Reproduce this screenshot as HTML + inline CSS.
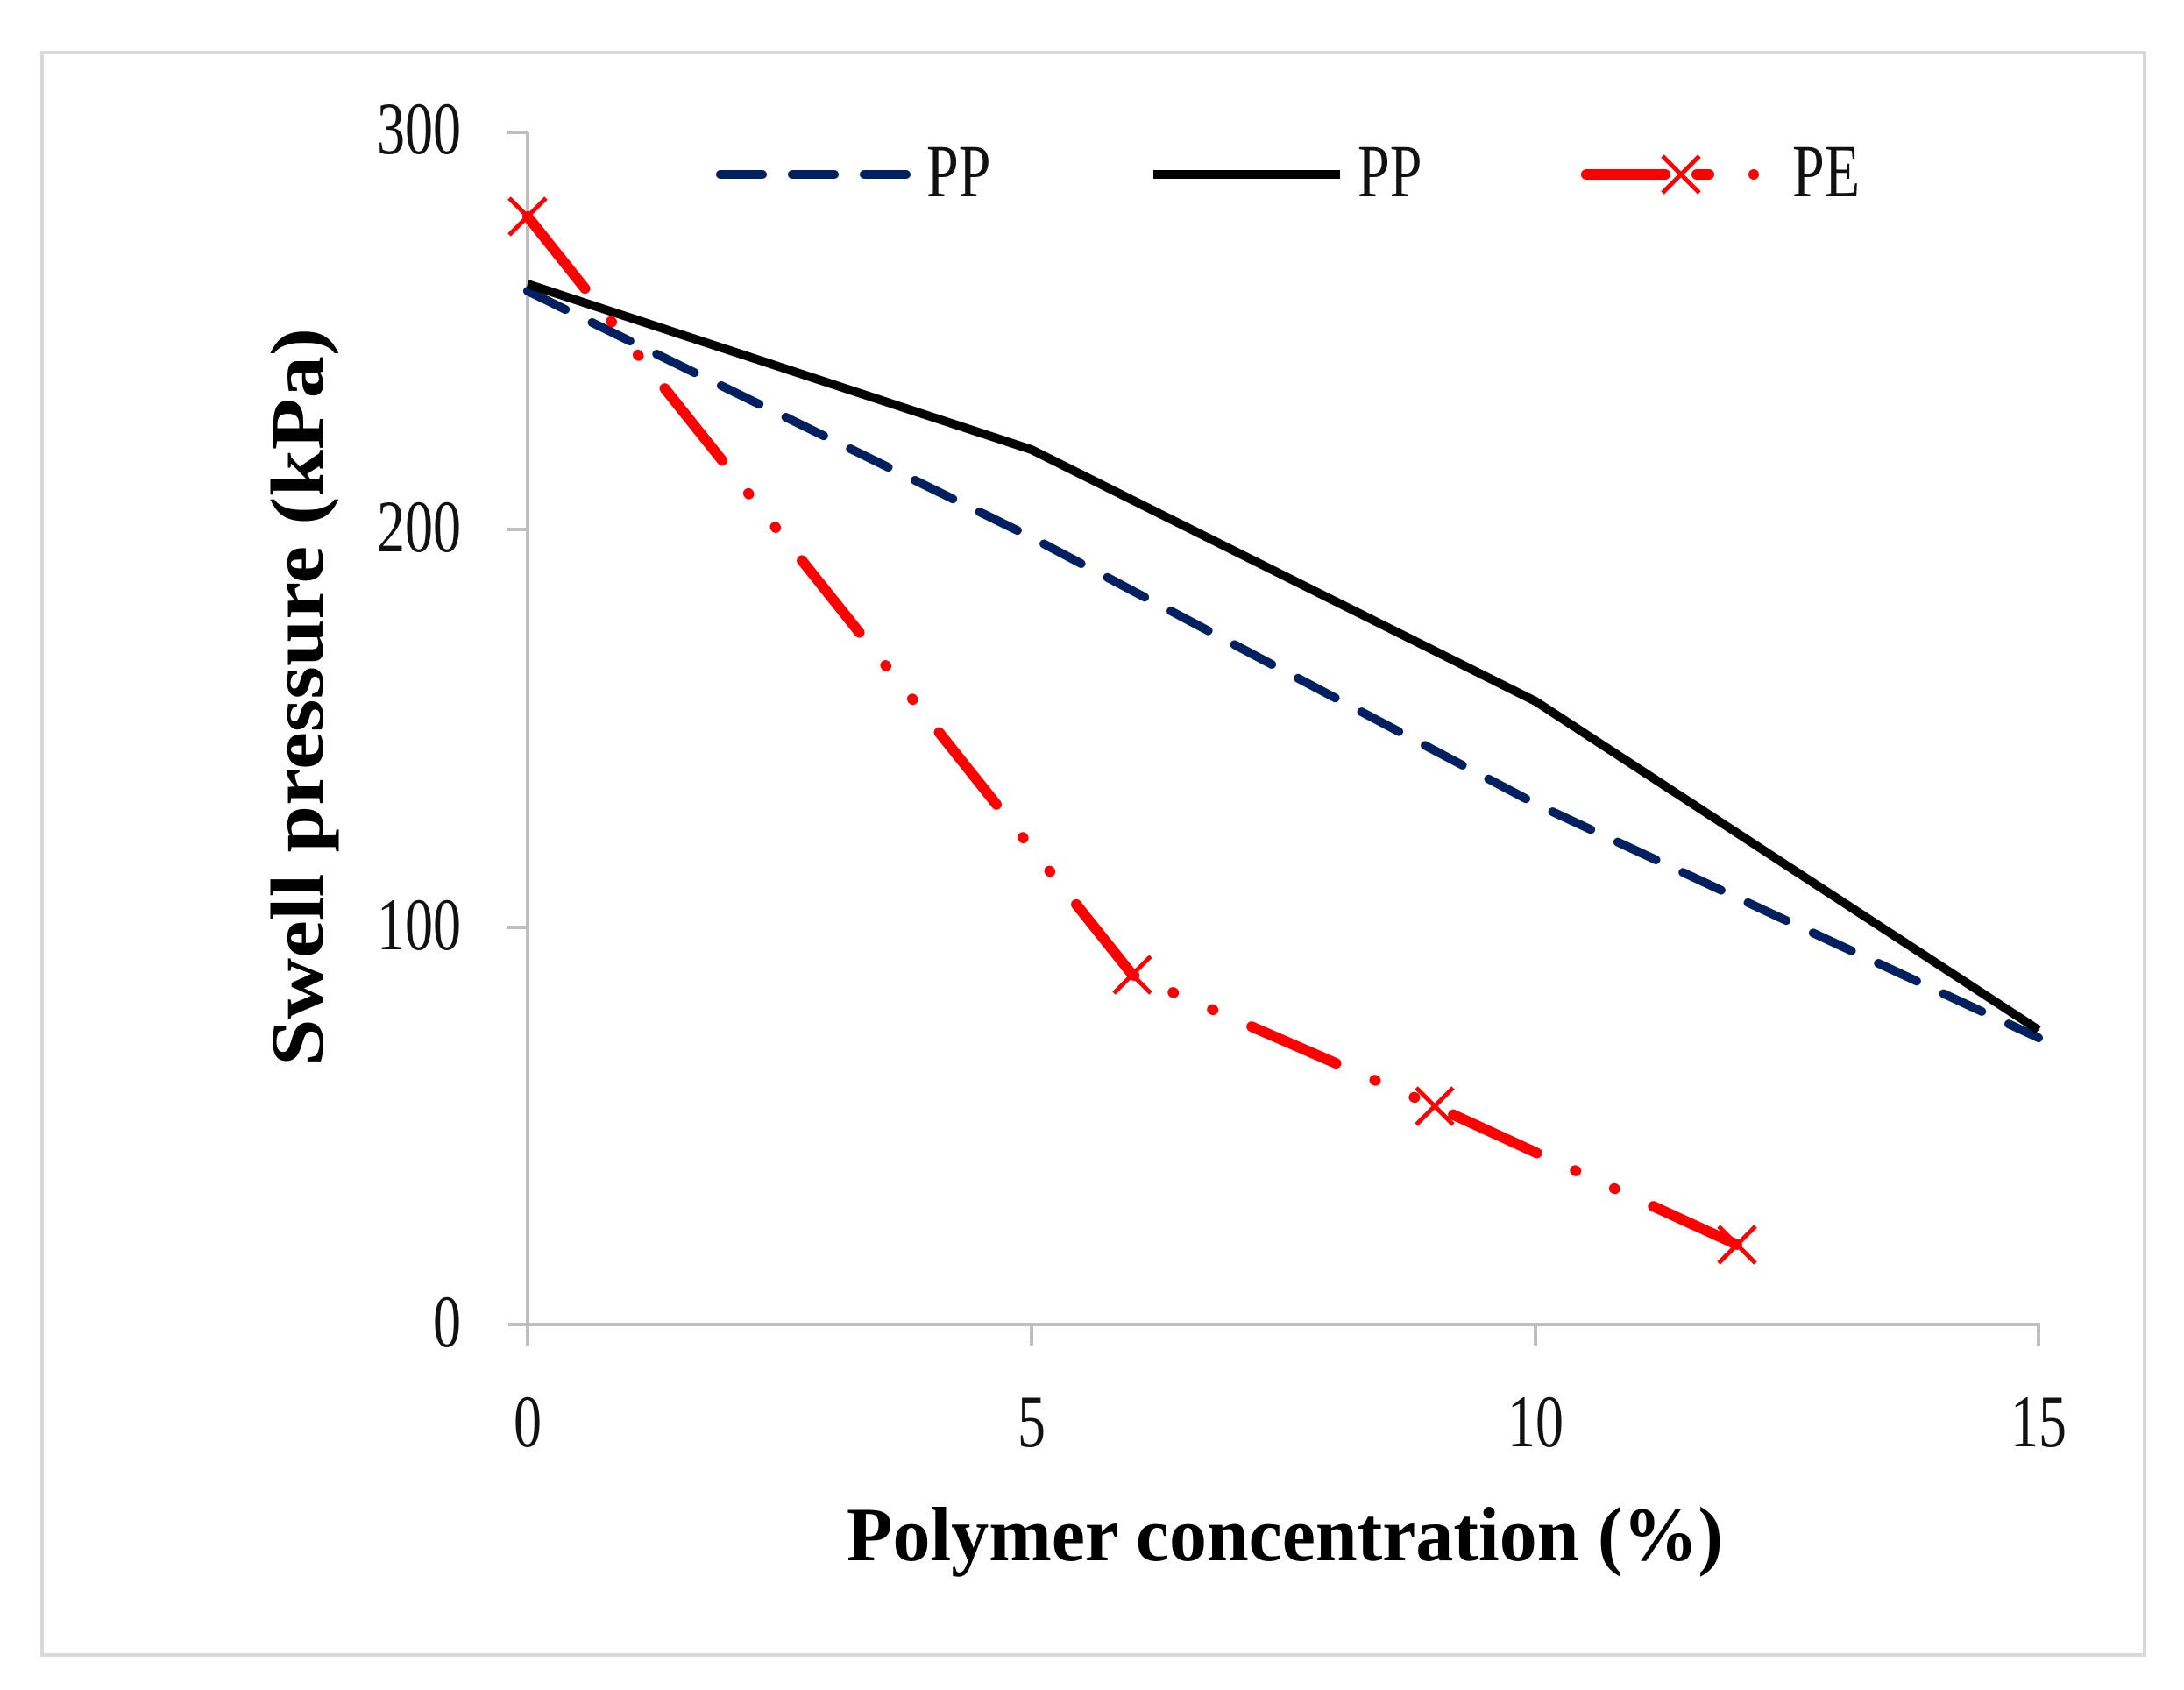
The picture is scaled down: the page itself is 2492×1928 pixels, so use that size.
<!DOCTYPE html>
<html><head><meta charset="utf-8"><style>
html,body{margin:0;padding:0;background:#fff;}
svg{display:block;}
text{font-family:"Liberation Serif",serif;}
</style></head><body>
<svg width="2492" height="1928" viewBox="0 0 2492 1928" xmlns="http://www.w3.org/2000/svg">
<rect x="0" y="0" width="2492" height="1928" fill="#fff"/>
<rect x="48" y="60" width="2399" height="1828" fill="none" stroke="#d9d9d9" stroke-width="4"/>
<g stroke="#bfbfbf" stroke-width="4" fill="none">
<line x1="602" y1="151" x2="602" y2="1535"/>
<line x1="580" y1="1511" x2="2328" y2="1511"/>
<line x1="578" y1="151" x2="602" y2="151"/>
<line x1="578" y1="604" x2="602" y2="604"/>
<line x1="578" y1="1058" x2="602" y2="1058"/>
<line x1="1177" y1="1511" x2="1177" y2="1535"/>
<line x1="1752" y1="1511" x2="1752" y2="1535"/>
<line x1="2326" y1="1511" x2="2326" y2="1535"/>
</g>
<g font-size="64" fill="#111" text-anchor="end">
<text transform="translate(526,175) scale(1,1.32)">300</text>
<text transform="translate(526,629) scale(1,1.32)">200</text>
<text transform="translate(526,1083) scale(1,1.32)">100</text>
<text transform="translate(526,1536) scale(1,1.32)">0</text>
</g>
<g font-size="64" fill="#111" text-anchor="middle">
<text transform="translate(602,1650) scale(1,1.32)">0</text>
<text transform="translate(1177,1650) scale(1,1.32)">5</text>
<text transform="translate(1752,1650) scale(1,1.32)">10</text>
<text transform="translate(2326,1650) scale(1,1.32)">15</text>
</g>
<text transform="translate(1466,1780) scale(1,1.25)" font-size="70" font-weight="bold" text-anchor="middle" textLength="1000" lengthAdjust="spacingAndGlyphs" fill="#000">Polymer concentration (%)</text>
<text transform="translate(368,795) rotate(-90) scale(1,1.22)" font-size="70" font-weight="bold" text-anchor="middle" textLength="842" lengthAdjust="spacingAndGlyphs" fill="#000">Swell pressure (kPa)</text>
<polyline points="602,332 1177,613 1752,917 2326,1184" fill="none" stroke="#002060" stroke-width="10" stroke-dasharray="48 34" stroke-linecap="round"/>
<polyline points="602,324 1177,513 1752,800 2326,1175" fill="none" stroke="#000" stroke-width="10" stroke-linejoin="round"/>
<polyline points="602,247 1292,1112 1637,1262 1982,1420" fill="none" stroke="#ff0000" stroke-width="12" stroke-dasharray="105 48 1 48 1 48" stroke-linecap="round"/>
<g stroke="#ff0000" stroke-width="5" fill="none">
<path d="M581,226 L623,268 M623,226 L581,268"/>
<path d="M1271,1091 L1313,1133 M1313,1091 L1271,1133"/>
<path d="M1616,1241 L1658,1283 M1658,1241 L1616,1283"/>
<path d="M1961,1399 L2003,1441 M2003,1399 L1961,1441"/>
</g>
<line x1="822" y1="199" x2="1041" y2="199" stroke="#002060" stroke-width="10" stroke-dasharray="48 34" stroke-linecap="round"/>
<text transform="translate(1057,224) scale(1,1.3)" font-size="66" fill="#111">PP</text>
<line x1="1316" y1="199" x2="1529" y2="199" stroke="#000" stroke-width="10"/>
<text transform="translate(1549,224) scale(1,1.3)" font-size="66" fill="#111">PP</text>
<line x1="1810" y1="199" x2="1900" y2="199" stroke="#ff0000" stroke-width="12" stroke-linecap="round"/>
<line x1="1936" y1="199" x2="1950" y2="199" stroke="#ff0000" stroke-width="12" stroke-linecap="round"/>
<circle cx="2001" cy="199" r="6" fill="#ff0000"/>
<path d="M1897,178 L1939,220 M1939,178 L1897,220" stroke="#ff0000" stroke-width="5"/>
<text transform="translate(2045,224) scale(1,1.3)" font-size="66" fill="#111">PE</text>
</svg>
</body></html>
